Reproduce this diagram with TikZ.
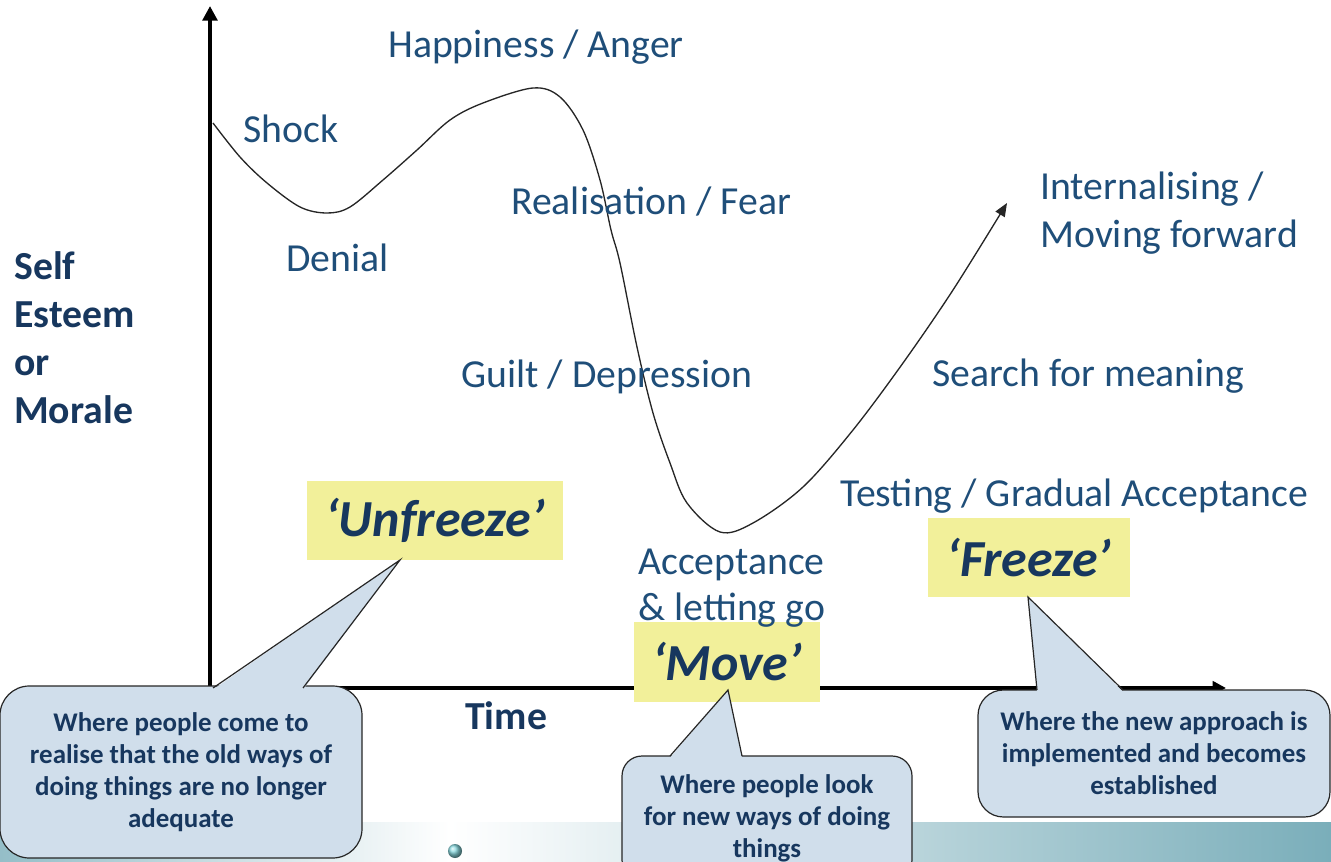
\documentclass[tikz,border=0pt]{standalone}
\usepackage{fontspec}
\setmainfont{Carlito}
\usetikzlibrary{positioning, arrows.meta}

\definecolor{stagetext}{HTML}{1F4E79}
\definecolor{navytext}{HTML}{17375E}
\definecolor{notefill}{HTML}{D0DEEB}
\definecolor{phasefill}{HTML}{F2F09A}
\definecolor{bandteal}{HTML}{7AAEBA}

\tikzset{
  stage/.style={text=stagetext, font=\fontsize{29.8}{36}\selectfont, inner sep=0pt, anchor=base west},
  axislabel/.style={text=navytext, font=\bfseries\fontsize{29.8}{36}\selectfont, inner sep=0pt, anchor=base west},
  phase/.style={fill=phasefill, text=navytext, font=\bfseries\itshape\fontsize{39}{44}\selectfont, inner sep=0pt},
  note/.style={draw=black!85, line width=0.9pt, fill=notefill, text=navytext,
    font=\bfseries\fontsize{20.2}{24}\selectfont, align=center, inner sep=0pt},
  pointer/.style={draw=black!85, line width=0.9pt, line join=miter},
  axis/.style={line width=3pt, line join=miter, {Triangle[width=11pt,length=11pt]}-{Triangle[width=10pt,length=10pt]}},
  curve/.style={line width=1pt, draw=black!85, -{Triangle[width=8pt,length=10pt]}}
}

\begin{document}
\begin{tikzpicture}[x=0.75pt, y=-0.75pt, on grid]
\useasboundingbox (0,0) rectangle (1331,862);
\clip (0,0) rectangle (1331,862);

% slide band at the bottom
\shade[left color=bandteal!80, right color=white] (0,822) rectangle (450,862);
\shade[left color=white, right color=bandteal] (450,822) rectangle (1331,862);
\shade[ball color=cyan!30!bandteal!70] (455,851) circle (7);

% axes
\coordinate (O) at (210,688);
\coordinate (ytip) at (210,6);
\coordinate (xtip) at (1226,688);
\draw[axis] (ytip) -- (O) -- (xtip);

% change curve
\draw[curve] plot[smooth, tension=0.55] coordinates {
  (213,123) (240,157) (267,183) (300,207) (327,213) (350,207) (383,180)
  (417,150) (450,120) (483,103) (533,88) (560,97) (583,130) (600,180)
  (611,230) (620,263) (637,347) (653,413) (670,463) (687,503) (720,532)
  (753,523) (803,487) (853,430) (903,363) (953,290) (1007,203)};

% phases
\node[phase, minimum width=192pt, minimum height=59.25pt] (unfreeze) at (435,520.5) {`Unfreeze'};
\node[phase, minimum width=139.5pt, minimum height=60pt] (move) at (727,662) {`Move'};
\node[phase, minimum width=151.5pt, minimum height=59.25pt] (freeze) at (1029,557.5) {`Freeze'};

% stages
\node[stage] (happy) at (388,58) {Happiness / Anger};
\node[stage] (shock) at (243,143) {Shock};
\node[stage] (realise) at (511,215) {Realisation / Fear};
\node[stage] (denial) at (286,272) {Denial};
\node[stage] (intern) at (1040,200) {Internalising /};
\node[stage, below=36pt of intern.base west, anchor=base west] (moving) {Moving forward};
\node[stage] (guilt) at (461,388) {Guilt / Depression};
\node[stage] (search) at (932,387) {Search for meaning};
\node[stage] (testing) at (840,506) {Testing / Gradual Acceptance};
\node[stage] (accept) at (638,574) {Acceptance};
\node[stage, below=34.5pt of accept.base west, anchor=base west] (letgo) {\& letting go};

% axis labels
\node[axislabel] (self) at (14,280) {Self};
\node[axislabel, below=36pt of self.base west, anchor=base west] (esteem) {Esteem};
\node[axislabel, below=36pt of esteem.base west, anchor=base west] (or) {or};
\node[axislabel, below=36pt of or.base west, anchor=base west] (morale) {Morale};
\node[axislabel] (time) at (465,729) {Time};

% notes
\node[note, rounded corners=22pt, minimum width=271.5pt, minimum height=129pt] (unfreezeNote) at (181,772)
  {Where people come to\\realise that the old ways of\\doing things are no longer\\adequate};
\node[note, rounded corners=15pt, minimum width=217.5pt, minimum height=93pt] (moveNote) at (767,818)
  {Where people look\\for new ways of doing\\things};
\node[note, rounded corners=19pt, minimum width=264pt, minimum height=95.25pt] (freezeNote) at (1154,753.5)
  {Where the new approach is\\implemented and becomes\\established};

% pointers
\coordinate (uA) at (213,688);
\coordinate (uB) at (303,688);
\coordinate (uTip) at (400,560);
\coordinate (mA) at (670,756);
\coordinate (mB) at (742,756);
\coordinate (mTip) at (728,690);
\coordinate (fA) at (1037,690);
\coordinate (fB) at (1123,690);
\coordinate (fTip) at (1028,597);
\foreach \a/\t/\b in {uA/uTip/uB, mA/mTip/mB, fA/fTip/fB} {
  \fill[notefill] ([yshift=-1.2pt]\a) -- (\t) -- ([yshift=-1.2pt]\b) -- cycle;
  \draw[pointer] (\a) -- (\t) -- (\b);
}
\end{tikzpicture}
\end{document}
